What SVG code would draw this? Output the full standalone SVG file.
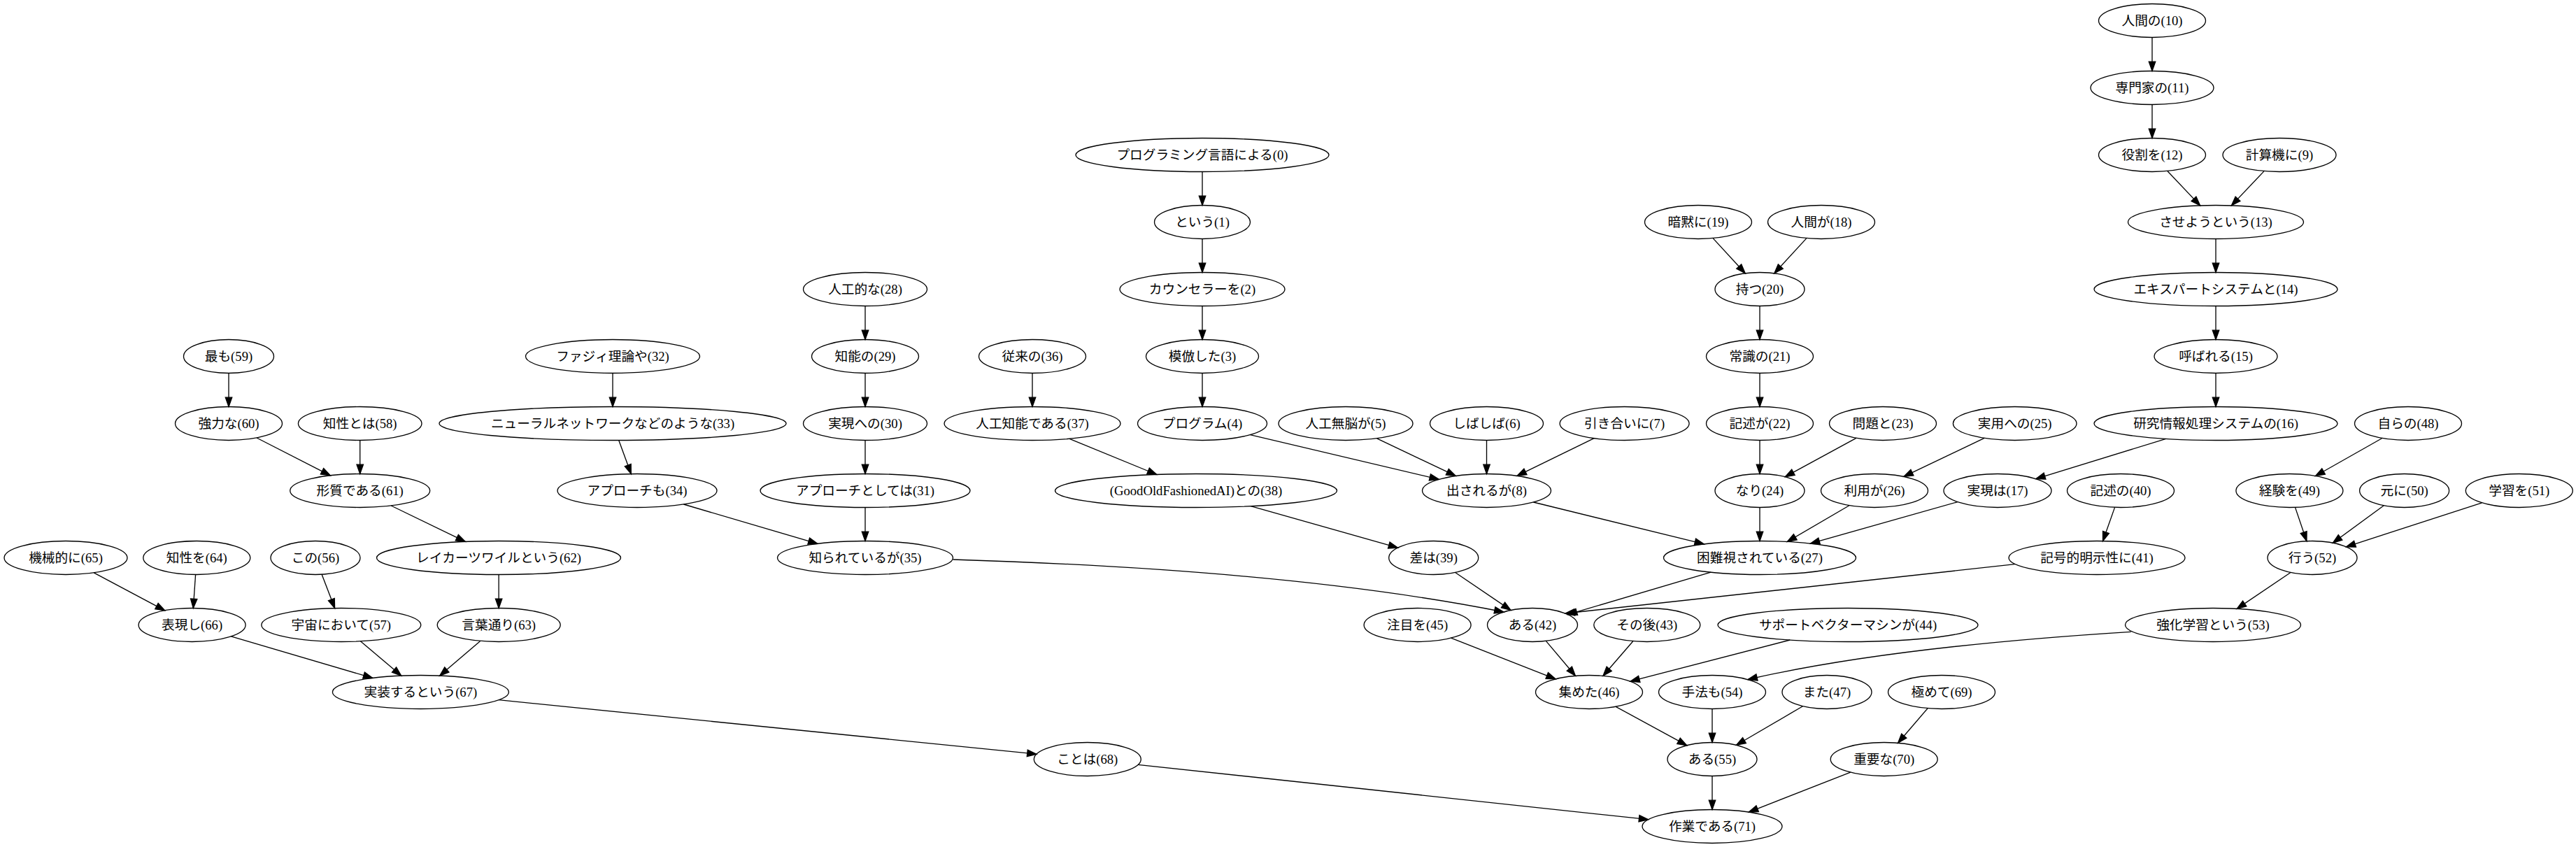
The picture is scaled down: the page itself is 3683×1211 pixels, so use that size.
<svg xmlns="http://www.w3.org/2000/svg" width="3683" height="1211" viewBox="0 0 3683 1211">
<style>
.n ellipse{fill:none;stroke:#000;stroke-width:1.33}
.n text{font-family:"Liberation Serif","Noto Sans CJK JP",serif;font-size:18.67px;text-anchor:middle;fill:#000}
.e path{fill:none;stroke:#000;stroke-width:1.33;marker-end:url(#a)}
</style>
<defs>
<marker id="a" markerUnits="userSpaceOnUse" markerWidth="16" markerHeight="12" viewBox="-1 -1 16 12" refX="13.3" refY="5" orient="auto" overflow="visible">
<path d="M0,0.3 L13.3,5 L0,9.7z" fill="#000" stroke="#000" stroke-width="1.33"/>
</marker>
</defs>
<rect width="3683" height="1211" fill="#fff"/>
<g class="e">
<path d="M3077,53.5 L3077,101.5"/>
<path d="M3077,149.5 L3077,197.5"/>
<path d="M3098.8,244.5 L3145.6,293.9"/>
<path d="M3237.1,244.6 L3190.4,293.9"/>
<path d="M3168,341.5 L3168,389.5"/>
<path d="M3168,437.5 L3168,485.5"/>
<path d="M3168,533.5 L3168,581.5"/>
<path d="M3096.8,627.4 L2910.8,684.6"/>
<path d="M1719,245.5 L1719,293.5"/>
<path d="M1719,341.5 L1719,389.5"/>
<path d="M1719,437.5 L1719,485.5"/>
<path d="M1719,533.5 L1719,581.5"/>
<path d="M1787.4,621.7 L2057.3,685.4"/>
<path d="M1968.6,626.8 L2081.3,680.4"/>
<path d="M2125.5,629.5 L2125.5,677.5"/>
<path d="M2279.1,626.7 L2169,680.3"/>
<path d="M2449.1,340.6 L2495.2,390.8"/>
<path d="M2582.9,340.6 L2536.8,390.8"/>
<path d="M2516,437.5 L2516,485.5"/>
<path d="M2516,533.5 L2516,581.5"/>
<path d="M2516,629.5 L2516,677.5"/>
<path d="M2653.9,626.3 L2552.3,681.7"/>
<path d="M2837.1,626.4 L2721.9,681.4"/>
<path d="M2516,725.5 L2516,773.5"/>
<path d="M2643.9,722.7 L2555.3,774.5"/>
<path d="M2798.9,717.6 L2588.3,777.1"/>
<path d="M2192.4,718 L2436.4,777.9"/>
<path d="M1237,437.5 L1237,485.5"/>
<path d="M1237,533.5 L1237,581.5"/>
<path d="M1237,629.5 L1237,677.5"/>
<path d="M1237,725.5 L1237,773.5"/>
<path d="M977.4,721 L1169,777.4"/>
<path d="M876,533.5 L876,581.5"/>
<path d="M884.7,629.5 L902.3,677.6"/>
<path d="M1476,533.5 L1476,581.5"/>
<path d="M1529.1,627.3 L1653.8,678.5"/>
<path d="M1788.3,723.6 L1998.6,783.1"/>
<path d="M1362.5,800 Q1850,815 2150,875"/>
<path d="M2080.6,818.5 L2160,872.4"/>
<path d="M2446.1,818.2 L2241.5,878.6"/>
<path d="M2880.7,806.7 L2238,877"/>
<path d="M3023.6,725.4 L3006.5,773.6"/>
<path d="M3405.9,626.5 L3310.5,680.5"/>
<path d="M3281.5,725.4 L3297.9,773.7"/>
<path d="M3408.3,722.8 L3335.3,776.2"/>
<path d="M3548.6,718.8 L3354.4,781.8"/>
<path d="M3275,818.5 L3198.2,870.4"/>
<path d="M2210.3,916.4 L2252.4,966.3"/>
<path d="M2074.5,912.2 L2224.1,970.8"/>
<path d="M2334.8,916.7 L2292,966.3"/>
<path d="M2559.2,915 L2330.9,974.2"/>
<path d="M3046.7,903.3 Q2700,925 2499,971.5"/>
<path d="M2310.1,1010.3 L2411.7,1065.7"/>
<path d="M2448,1013.5 L2448,1061.5"/>
<path d="M2577.5,1009.7 L2482.5,1065.3"/>
<path d="M2756.1,1012.7 L2713.6,1062.3"/>
<path d="M2448,1109.5 L2448,1157.5"/>
<path d="M2645.8,1104.2 L2500.3,1161.1"/>
<path d="M1627.2,1093.3 L2356.7,1171.7"/>
<path d="M712.8,1000.7 L1482,1078.2"/>
<path d="M327,533.5 L327,581.5"/>
<path d="M367,626 L472.3,679.8"/>
<path d="M514.7,629.5 L514.7,677.5"/>
<path d="M559.2,723 L665.3,774.4"/>
<path d="M713.1,821.5 L713.1,869.5"/>
<path d="M134.2,818.9 L235.7,872.8"/>
<path d="M279.6,821.5 L276.3,869.5"/>
<path d="M460.1,821.3 L478.6,869.6"/>
<path d="M330.4,909.9 L532.8,969.4"/>
<path d="M515.4,916.8 L573.7,966.1"/>
<path d="M686.7,916.4 L628.7,966.1"/>
</g>
<g id="n0" class="n"><ellipse cx="1719" cy="221.5" rx="181" ry="24"/><text x="1719" y="227.5">プログラミング言語による(0)</text></g>
<g id="n1" class="n"><ellipse cx="1719" cy="317.5" rx="68.5" ry="24"/><text x="1719" y="323.5">という(1)</text></g>
<g id="n2" class="n"><ellipse cx="1719" cy="413.5" rx="118" ry="24"/><text x="1719" y="419.5">カウンセラーを(2)</text></g>
<g id="n3" class="n"><ellipse cx="1719" cy="509.5" rx="80.5" ry="24"/><text x="1719" y="515.5">模倣した(3)</text></g>
<g id="n4" class="n"><ellipse cx="1719" cy="605.5" rx="92.5" ry="24"/><text x="1719" y="611.5">プログラム(4)</text></g>
<g id="n5" class="n"><ellipse cx="1924" cy="605.5" rx="96" ry="24"/><text x="1924" y="611.5">人工無脳が(5)</text></g>
<g id="n6" class="n"><ellipse cx="2125.5" cy="605.5" rx="81" ry="24"/><text x="2125.5" y="611.5">しばしば(6)</text></g>
<g id="n7" class="n"><ellipse cx="2322.6" cy="605.5" rx="92.5" ry="24"/><text x="2322.6" y="611.5">引き合いに(7)</text></g>
<g id="n8" class="n"><ellipse cx="2125.5" cy="701.5" rx="92" ry="24"/><text x="2125.5" y="707.5">出されるが(8)</text></g>
<g id="n9" class="n"><ellipse cx="3259" cy="221.5" rx="81" ry="24"/><text x="3259" y="227.5">計算機に(9)</text></g>
<g id="n10" class="n"><ellipse cx="3077" cy="29.5" rx="76.5" ry="24"/><text x="3077" y="35.5">人間の(10)</text></g>
<g id="n11" class="n"><ellipse cx="3077" cy="125.5" rx="88" ry="24"/><text x="3077" y="131.5">専門家の(11)</text></g>
<g id="n12" class="n"><ellipse cx="3077" cy="221.5" rx="76.5" ry="24"/><text x="3077" y="227.5">役割を(12)</text></g>
<g id="n13" class="n"><ellipse cx="3168" cy="317.5" rx="125.5" ry="24"/><text x="3168" y="323.5">させようという(13)</text></g>
<g id="n14" class="n"><ellipse cx="3168" cy="413.5" rx="174" ry="24"/><text x="3168" y="419.5">エキスパートシステムと(14)</text></g>
<g id="n15" class="n"><ellipse cx="3168" cy="509.5" rx="88" ry="24"/><text x="3168" y="515.5">呼ばれる(15)</text></g>
<g id="n16" class="n"><ellipse cx="3168" cy="605.5" rx="174" ry="24"/><text x="3168" y="611.5">研究情報処理システムの(16)</text></g>
<g id="n17" class="n"><ellipse cx="2856" cy="701.5" rx="77" ry="24"/><text x="2856" y="707.5">実現は(17)</text></g>
<g id="n18" class="n"><ellipse cx="2604" cy="317.5" rx="76.5" ry="24"/><text x="2604" y="323.5">人間が(18)</text></g>
<g id="n19" class="n"><ellipse cx="2428" cy="317.5" rx="76.5" ry="24"/><text x="2428" y="323.5">暗黙に(19)</text></g>
<g id="n20" class="n"><ellipse cx="2516" cy="413.5" rx="64" ry="24"/><text x="2516" y="419.5">持つ(20)</text></g>
<g id="n21" class="n"><ellipse cx="2516" cy="509.5" rx="76.5" ry="24"/><text x="2516" y="515.5">常識の(21)</text></g>
<g id="n22" class="n"><ellipse cx="2516" cy="605.5" rx="76.5" ry="24"/><text x="2516" y="611.5">記述が(22)</text></g>
<g id="n23" class="n"><ellipse cx="2692" cy="605.5" rx="76.5" ry="24"/><text x="2692" y="611.5">問題と(23)</text></g>
<g id="n24" class="n"><ellipse cx="2516" cy="701.5" rx="64" ry="24"/><text x="2516" y="707.5">なり(24)</text></g>
<g id="n25" class="n"><ellipse cx="2880.7" cy="605.5" rx="88.3" ry="24"/><text x="2880.7" y="611.5">実用への(25)</text></g>
<g id="n26" class="n"><ellipse cx="2680" cy="701.5" rx="76.5" ry="24"/><text x="2680" y="707.5">利用が(26)</text></g>
<g id="n27" class="n"><ellipse cx="2516" cy="797.5" rx="137.5" ry="24"/><text x="2516" y="803.5">困難視されている(27)</text></g>
<g id="n28" class="n"><ellipse cx="1237" cy="413.5" rx="88.5" ry="24"/><text x="1237" y="419.5">人工的な(28)</text></g>
<g id="n29" class="n"><ellipse cx="1237" cy="509.5" rx="76.5" ry="24"/><text x="1237" y="515.5">知能の(29)</text></g>
<g id="n30" class="n"><ellipse cx="1237" cy="605.5" rx="88.5" ry="24"/><text x="1237" y="611.5">実現への(30)</text></g>
<g id="n31" class="n"><ellipse cx="1237" cy="701.5" rx="150" ry="24"/><text x="1237" y="707.5">アプローチとしては(31)</text></g>
<g id="n32" class="n"><ellipse cx="876" cy="509.5" rx="124.5" ry="24"/><text x="876" y="515.5">ファジィ理論や(32)</text></g>
<g id="n33" class="n"><ellipse cx="876" cy="605.5" rx="248" ry="24"/><text x="876" y="611.5">ニューラルネットワークなどのような(33)</text></g>
<g id="n34" class="n"><ellipse cx="911" cy="701.5" rx="114" ry="24"/><text x="911" y="707.5">アプローチも(34)</text></g>
<g id="n35" class="n"><ellipse cx="1237" cy="797.5" rx="125.5" ry="24"/><text x="1237" y="803.5">知られているが(35)</text></g>
<g id="n36" class="n"><ellipse cx="1476" cy="509.5" rx="76.5" ry="24"/><text x="1476" y="515.5">従来の(36)</text></g>
<g id="n37" class="n"><ellipse cx="1476" cy="605.5" rx="126" ry="24"/><text x="1476" y="611.5">人工知能である(37)</text></g>
<g id="n38" class="n"><ellipse cx="1710" cy="701.5" rx="201.5" ry="24"/><text x="1710" y="707.5">(GoodOldFashionedAI)との(38)</text></g>
<g id="n39" class="n"><ellipse cx="2049.7" cy="797.5" rx="64" ry="24"/><text x="2049.7" y="803.5">差は(39)</text></g>
<g id="n40" class="n"><ellipse cx="3032" cy="701.5" rx="76.5" ry="24"/><text x="3032" y="707.5">記述の(40)</text></g>
<g id="n41" class="n"><ellipse cx="2998" cy="797.5" rx="126" ry="24"/><text x="2998" y="803.5">記号的明示性に(41)</text></g>
<g id="n42" class="n"><ellipse cx="2191" cy="893.5" rx="64.5" ry="24"/><text x="2191" y="899.5">ある(42)</text></g>
<g id="n43" class="n"><ellipse cx="2354.8" cy="893.5" rx="76" ry="24"/><text x="2354.8" y="899.5">その後(43)</text></g>
<g id="n44" class="n"><ellipse cx="2642" cy="893.5" rx="186" ry="24"/><text x="2642" y="899.5">サポートベクターマシンが(44)</text></g>
<g id="n45" class="n"><ellipse cx="2026.6" cy="893.5" rx="76.5" ry="24"/><text x="2026.6" y="899.5">注目を(45)</text></g>
<g id="n46" class="n"><ellipse cx="2272" cy="989.5" rx="76.5" ry="24"/><text x="2272" y="995.5">集めた(46)</text></g>
<g id="n47" class="n"><ellipse cx="2612" cy="989.5" rx="64" ry="24"/><text x="2612" y="995.5">また(47)</text></g>
<g id="n48" class="n"><ellipse cx="3443" cy="605.5" rx="76.5" ry="24"/><text x="3443" y="611.5">自らの(48)</text></g>
<g id="n49" class="n"><ellipse cx="3273.4" cy="701.5" rx="76.5" ry="24"/><text x="3273.4" y="707.5">経験を(49)</text></g>
<g id="n50" class="n"><ellipse cx="3437.6" cy="701.5" rx="64" ry="24"/><text x="3437.6" y="707.5">元に(50)</text></g>
<g id="n51" class="n"><ellipse cx="3601.8" cy="701.5" rx="76.5" ry="24"/><text x="3601.8" y="707.5">学習を(51)</text></g>
<g id="n52" class="n"><ellipse cx="3306" cy="797.5" rx="64" ry="24"/><text x="3306" y="803.5">行う(52)</text></g>
<g id="n53" class="n"><ellipse cx="3164" cy="893.5" rx="125.5" ry="24"/><text x="3164" y="899.5">強化学習という(53)</text></g>
<g id="n54" class="n"><ellipse cx="2448" cy="989.5" rx="76.5" ry="24"/><text x="2448" y="995.5">手法も(54)</text></g>
<g id="n55" class="n"><ellipse cx="2448" cy="1085.5" rx="64" ry="24"/><text x="2448" y="1091.5">ある(55)</text></g>
<g id="n56" class="n"><ellipse cx="451" cy="797.5" rx="64" ry="24"/><text x="451" y="803.5">この(56)</text></g>
<g id="n57" class="n"><ellipse cx="487.8" cy="893.5" rx="114" ry="24"/><text x="487.8" y="899.5">宇宙において(57)</text></g>
<g id="n58" class="n"><ellipse cx="514.7" cy="605.5" rx="88.3" ry="24"/><text x="514.7" y="611.5">知性とは(58)</text></g>
<g id="n59" class="n"><ellipse cx="327" cy="509.5" rx="64.5" ry="24"/><text x="327" y="515.5">最も(59)</text></g>
<g id="n60" class="n"><ellipse cx="327" cy="605.5" rx="76.5" ry="24"/><text x="327" y="611.5">強力な(60)</text></g>
<g id="n61" class="n"><ellipse cx="514.7" cy="701.5" rx="100" ry="24"/><text x="514.7" y="707.5">形質である(61)</text></g>
<g id="n62" class="n"><ellipse cx="713" cy="797.5" rx="174.5" ry="24"/><text x="713" y="803.5">レイカーツワイルという(62)</text></g>
<g id="n63" class="n"><ellipse cx="713.2" cy="893.5" rx="88" ry="24"/><text x="713.2" y="899.5">言葉通り(63)</text></g>
<g id="n64" class="n"><ellipse cx="281.3" cy="797.5" rx="76.5" ry="24"/><text x="281.3" y="803.5">知性を(64)</text></g>
<g id="n65" class="n"><ellipse cx="94" cy="797.5" rx="88" ry="24"/><text x="94" y="803.5">機械的に(65)</text></g>
<g id="n66" class="n"><ellipse cx="274.6" cy="893.5" rx="76.5" ry="24"/><text x="274.6" y="899.5">表現し(66)</text></g>
<g id="n67" class="n"><ellipse cx="601.4" cy="989.5" rx="126" ry="24"/><text x="601.4" y="995.5">実装するという(67)</text></g>
<g id="n68" class="n"><ellipse cx="1554.8" cy="1085.5" rx="76.5" ry="24"/><text x="1554.8" y="1091.5">ことは(68)</text></g>
<g id="n69" class="n"><ellipse cx="2776" cy="989.5" rx="76.5" ry="24"/><text x="2776" y="995.5">極めて(69)</text></g>
<g id="n70" class="n"><ellipse cx="2693.7" cy="1085.5" rx="76.5" ry="24"/><text x="2693.7" y="1091.5">重要な(70)</text></g>
<g id="n71" class="n"><ellipse cx="2448" cy="1181.5" rx="100" ry="24"/><text x="2448" y="1187.5">作業である(71)</text></g>
</svg>
